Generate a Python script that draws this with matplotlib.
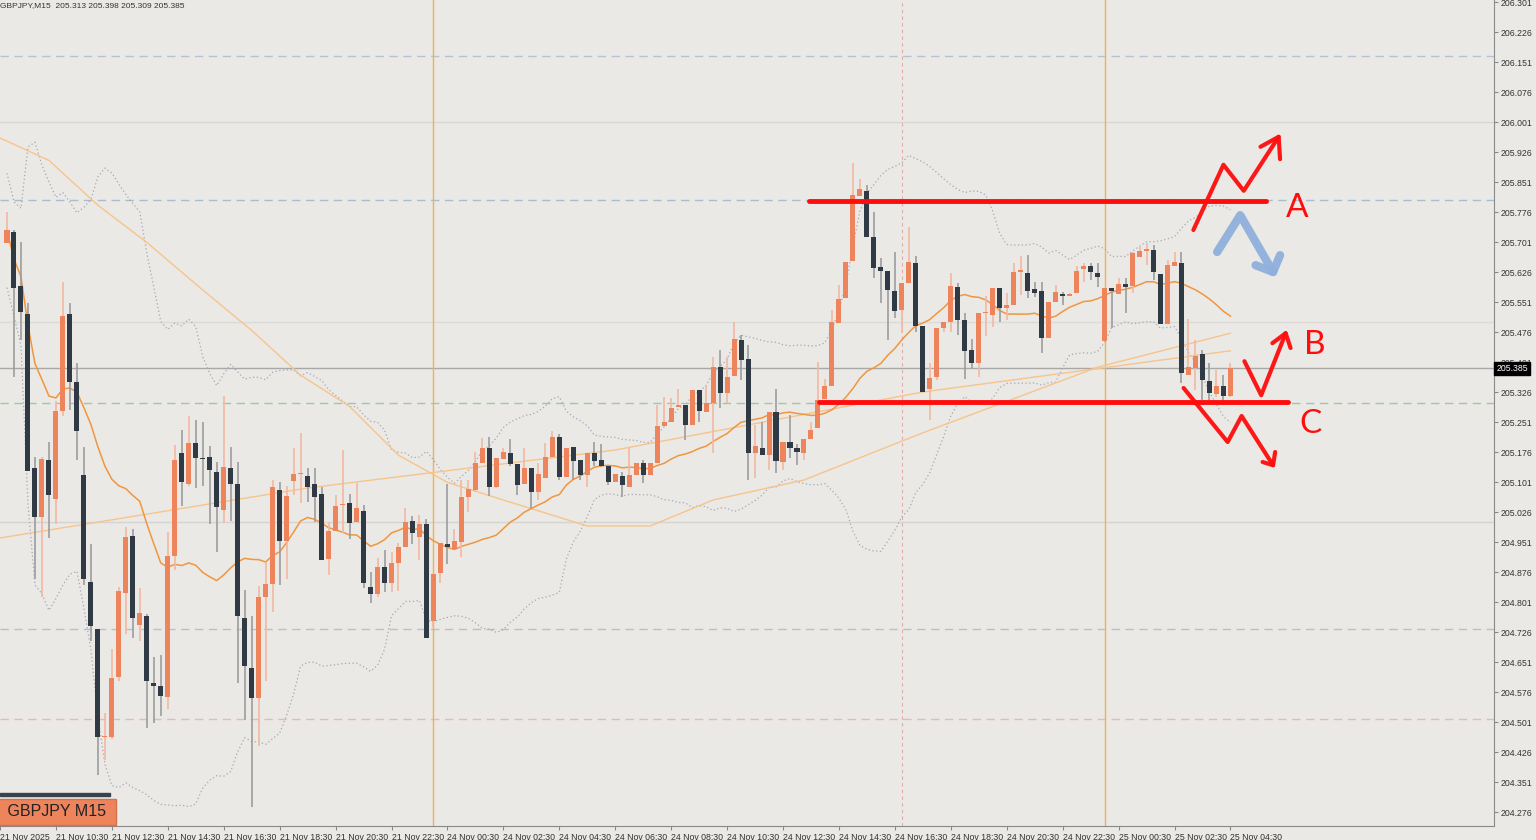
import numpy as np
import pandas as pd
import matplotlib
matplotlib.use("Agg")
import matplotlib.pyplot as plt

# ---------------- data (bars 1..176, M15) ----------------
opens = [205.698,205.727,205.590,205.520,205.135,205.013,205.155,205.058,205.278,205.520,
205.351,205.118,204.852,204.733,204.464,204.464,204.613,204.823,204.966,204.744,
204.765,204.598,204.592,204.563,204.916,205.173,205.097,205.199,205.161,205.164,
205.126,205.030,205.135,205.097,204.762,204.636,204.560,204.814,204.846,205.082,
204.954,205.103,205.120,205.116,205.096,205.070,204.908,204.979,205.043,205.049,
205.002,205.029,204.839,204.821,204.888,204.848,204.899,204.939,205.004,204.964,
204.995,204.754,204.874,204.945,204.933,204.950,205.063,205.081,205.149,205.187,
205.088,205.158,205.173,205.146,205.096,205.137,205.075,205.112,205.164,205.213,
205.114,205.188,205.156,205.118,205.174,205.156,205.141,205.102,205.116,205.089,
205.118,205.148,205.118,205.149,205.241,205.252,205.288,205.293,205.243,205.331,
205.277,205.298,205.389,205.324,205.366,205.456,205.408,205.173,205.185,205.168,
205.277,205.152,205.202,205.185,205.174,205.208,205.235,205.308,205.341,205.499,
205.560,205.654,205.816,205.829,205.713,205.638,205.629,205.579,205.531,205.599,
205.649,205.491,205.333,205.363,205.485,205.502,205.589,205.506,205.431,205.398,
205.523,205.518,205.585,205.535,205.543,205.627,205.623,205.583,205.579,205.460,
205.552,205.571,205.566,205.573,205.633,205.641,205.624,205.454,205.585,205.571,
205.596,205.591,205.663,205.679,205.681,205.621,205.496,205.641,205.648,205.368,
205.385,205.421,205.353,205.321,205.342,205.316]
highs = [205.777,205.730,205.701,205.549,205.164,205.164,205.202,205.304,205.602,205.549,
205.398,205.188,204.945,204.733,204.523,204.683,204.838,204.989,204.983,204.835,
204.771,204.663,204.668,204.975,205.193,205.231,205.266,205.255,205.250,205.191,
205.150,205.316,205.188,205.150,204.832,204.765,204.840,204.899,205.106,205.100,
205.091,205.185,205.223,205.135,205.135,205.089,205.000,205.068,205.181,205.070,
205.098,205.043,204.877,204.910,204.931,204.927,204.948,205.035,205.016,205.018,
205.008,204.871,204.948,205.095,204.984,205.106,205.106,205.177,205.210,205.214,
205.160,205.185,205.208,205.146,205.185,205.137,205.148,205.198,205.229,205.220,
205.185,205.188,205.156,205.174,205.202,205.196,205.141,205.120,205.125,205.185,
205.148,205.156,205.149,205.293,205.313,205.310,205.333,205.293,205.331,205.331,
205.343,205.414,205.431,205.414,205.502,205.468,205.443,205.243,205.252,205.277,
205.333,205.202,205.268,205.197,205.208,205.252,205.402,205.358,205.531,205.593,
205.652,205.899,205.858,205.843,205.777,205.660,205.629,205.677,205.599,205.739,
205.666,205.491,205.398,205.485,205.502,205.623,205.598,205.523,205.458,205.523,
205.565,205.585,205.585,205.573,205.648,205.666,205.668,205.602,205.602,205.552,
205.594,205.577,205.574,205.641,205.648,205.648,205.648,205.585,205.585,205.610,
205.610,205.677,205.689,205.698,205.694,205.621,205.656,205.677,205.677,205.508,
205.456,205.431,205.399,205.381,205.368,205.399]
lows = [205.698,205.363,205.456,205.129,204.858,204.814,204.960,204.995,205.266,205.281,
205.156,204.843,204.703,204.368,204.406,204.458,204.604,204.721,204.712,204.703,
204.485,204.499,204.517,204.534,204.881,205.042,205.091,205.086,205.090,204.995,
204.925,204.998,205.004,204.598,204.505,204.288,204.441,204.604,204.776,204.843,
204.858,205.068,205.048,205.050,205.000,204.906,204.868,204.979,204.973,204.958,
205.002,204.835,204.798,204.814,204.827,204.827,204.829,204.939,204.946,204.906,
204.710,204.739,204.848,204.895,204.933,204.914,205.027,205.077,205.149,205.066,
205.085,205.158,205.140,205.068,205.096,205.035,205.056,205.112,205.164,205.106,
205.114,205.106,205.106,205.088,205.141,205.138,205.094,205.102,205.064,205.089,
205.118,205.098,205.118,205.149,205.241,205.252,205.288,205.206,205.243,205.252,
205.277,205.173,205.285,205.298,205.366,205.356,205.106,205.110,205.168,205.131,
205.124,205.131,205.160,205.143,205.156,205.208,205.235,205.308,205.341,205.499,
205.560,205.654,205.816,205.713,205.610,205.548,205.456,205.510,205.473,205.599,
205.477,205.327,205.256,205.356,205.477,205.477,205.468,205.358,205.385,205.363,
205.465,205.489,205.502,205.506,205.543,205.568,205.562,205.564,205.423,205.460,
205.552,205.543,205.566,205.573,205.602,205.606,205.589,205.454,205.485,205.571,
205.523,205.573,205.663,205.644,205.606,205.496,205.496,205.641,205.348,205.368,
205.331,205.306,205.306,205.314,205.302,205.314]
closes = [205.730,205.587,205.526,205.129,205.013,205.158,205.068,205.278,205.517,205.351,
205.228,204.858,204.741,204.464,204.467,204.610,204.829,204.963,204.762,204.773,
204.604,204.592,204.566,204.916,205.156,205.100,205.199,205.161,205.158,205.132,
205.039,205.138,205.097,204.765,204.642,204.560,204.814,204.846,205.088,204.954,
205.065,205.121,205.123,205.088,205.064,204.906,204.979,205.041,205.047,204.998,
205.037,204.848,204.821,204.888,204.848,204.899,204.939,205.002,204.973,204.996,
204.710,204.871,204.948,204.939,204.953,205.063,205.083,205.149,205.187,205.088,
205.160,205.175,205.146,205.094,205.137,205.077,205.120,205.164,205.213,205.114,
205.185,205.154,205.118,205.174,205.154,205.141,205.102,205.120,205.094,205.118,
205.148,205.118,205.149,205.241,205.252,205.285,205.293,205.243,205.331,205.279,
205.298,205.388,205.324,205.363,205.458,205.406,205.173,205.191,205.168,205.277,
205.154,205.202,205.185,205.177,205.208,205.231,205.306,205.341,205.502,205.558,
205.652,205.818,205.833,205.713,205.635,205.629,205.581,205.529,205.599,205.651,
205.491,205.327,205.360,205.485,205.502,205.591,205.506,205.429,205.399,205.523,
205.523,205.585,205.535,205.543,205.627,205.631,205.579,205.574,205.460,205.552,
205.577,205.566,205.571,205.629,205.641,205.627,205.613,205.585,205.579,205.596,
205.589,205.674,205.679,205.683,205.627,205.496,205.643,205.651,205.374,205.388,
205.416,205.356,205.323,205.340,205.316,205.385]

# slower moving averages (bar index, price)
mid_ma_bars = [0, 7, 14, 21, 29, 36, 43, 50, 57, 64, 72, 84, 93, 102, 115, 132, 157, 176]
mid_ma_vals = [205.961, 205.905, 205.793, 205.700, 205.581, 205.480, 205.368, 205.290, 205.168,
               205.100, 205.056, 204.991, 204.991, 205.056, 205.106, 205.224, 205.388, 205.473]
slow_ma_bars = [0, 44, 88, 132, 176]
slow_ma_vals = [204.961, 205.086, 205.181, 205.326, 205.429]

tick_bars = list(range(0, 177, 8))
tick_labels = ["21 Nov 2025", "21 Nov 10:30", "21 Nov 12:30", "21 Nov 14:30", "21 Nov 16:30",
               "21 Nov 18:30", "21 Nov 20:30", "21 Nov 22:30", "24 Nov 00:30", "24 Nov 02:30",
               "24 Nov 04:30", "24 Nov 06:30", "24 Nov 08:30", "24 Nov 10:30", "24 Nov 12:30",
               "24 Nov 14:30", "24 Nov 16:30", "24 Nov 18:30", "24 Nov 20:30", "24 Nov 22:30",
               "25 Nov 00:30", "25 Nov 02:30", "25 Nov 04:30"]
price_ticks = [206.301 - 0.075 * k for k in range(28)]

hlines = [(206.166, "#b4c2d2", (0, (6, 4))), (206.001, "#d8d6d2", "-"), (205.501, "#dcdad6", "-"),
          (205.001, "#d6d4d0", "-"), (205.806, "#a9bcd0", (0, (6, 4))), (205.385, "#a8a8a8", "-"),
          (205.299, "#9cc8a8", (0, (6, 4))), (204.734, "#b8c0d0", (0, (6, 4))),
          (204.509, "#e8b4cc", (0, (6, 4)))]
vlines_orange = [62, 158]
vline_pink = 129

level_A = (205.804, 115.7, 181.1)
level_C = (205.300, 117.1, 184.3)
stroke_A = ([170.7, 175.0, 177.9, 182.9], [205.731, 205.894, 205.829, 205.964])
head_A = ([180.3, 182.9, 183.1], [205.939, 205.964, 205.908])
stroke_blue = ([174.1, 177.4, 182.1], [205.676, 205.768, 205.626])
head_blue = ([179.6, 182.1, 183.1], [205.643, 205.626, 205.668])
stroke_B = ([178.0, 180.4, 183.9], [205.403, 205.318, 205.473])
head_B = ([182.0, 183.9, 184.6], [205.448, 205.473, 205.436])
stroke_C = ([169.3, 175.6, 177.6, 182.1], [205.336, 205.201, 205.266, 205.143])
head_C = ([180.6, 182.1, 182.4], [205.151, 205.143, 205.176])
letters = [("A", 185.6, 205.786), ("B", 188.0, 205.443), ("C", 187.4, 205.246)]

# ---------------- drawing ----------------
BG = "#ebe9e5"
BULL = "#ee845c"
BEAR = "#2f3a44"
FONT = "Liberation Sans"
fig = plt.figure(figsize=(15.36, 8.4), dpi=100, facecolor=BG)
ax = fig.add_axes([0, 14 / 840, 1494 / 1536, 826 / 840])
ax.set_facecolor(BG)
ax.set_xlim(0.29, 213.7)
ax.set_ylim(204.241, 206.306)

for y, c, ls in hlines:
    ax.axhline(y, color=c, lw=1, ls=ls, zorder=1)
for v in vlines_orange:
    ax.axvline(v, color="#f2b24a", lw=1, zorder=1)
ax.axvline(vline_pink, color="#e3a8a8", lw=0.8, ls=(0, (3, 3)), zorder=1)

n = len(closes)
bars = np.arange(1, n + 1)
cl = pd.Series(closes)
ma20 = cl.rolling(20, min_periods=1).mean()
sd20 = cl.rolling(20, min_periods=2).std(ddof=0).bfill()
ax.plot(bars, ma20 + 2 * sd20, color="#a6a6b6", lw=0.9, ls=(0, (1, 2)), zorder=2)
ax.plot(bars, ma20 - 2 * sd20, color="#a6a6b6", lw=0.9, ls=(0, (1, 2)), zorder=2)
ax.plot(mid_ma_bars, mid_ma_vals, color="#f6c48c", lw=1.0, zorder=2)
ax.plot(slow_ma_bars, slow_ma_vals, color="#f6c48c", lw=1.0, zorder=2)
ax.plot(bars, ma20, color="#f0963e", lw=1.1, zorder=2)

for i, o, h, l, c in zip(bars, opens, highs, lows, closes):
    up = c >= o
    ax.vlines(i, l, h, color="#f3b8a2" if up else "#9d9d9d", lw=1.2, zorder=3)
    lo, hi = min(o, c), max(o, c)
    ax.bar(i, max(hi - lo, 0.003), bottom=lo, width=0.72,
           color=BULL if up else BEAR, lw=0, zorder=4)

# annotations
ax.plot([level_A[1], level_A[2]], [level_A[0]] * 2, color="#ff0d0d", lw=3.5,
        solid_capstyle="round", zorder=6)
ax.plot([level_C[1], level_C[2]], [level_C[0]] * 2, color="#ff0d0d", lw=3.5,
        solid_capstyle="round", zorder=6)
for (xs, ys), (hx, hy), col, w in [(stroke_A, head_A, "#ff0d0d", 3.0),
                                   (stroke_B, head_B, "#ff0d0d", 3.0),
                                   (stroke_C, head_C, "#ff0d0d", 3.0),
                                   (stroke_blue, head_blue, "#8fb0dc", 6.0)]:
    ax.plot(xs, ys, color=col, lw=w, solid_capstyle="round", solid_joinstyle="round", zorder=6,
            alpha=0.95)
    ax.plot(hx, hy, color=col, lw=w, solid_capstyle="round", solid_joinstyle="round", zorder=6,
            alpha=0.95)
for t, x, y in letters:
    ax.text(x, y, t, color="#ff0d0d", fontsize=24, ha="center", va="center",
            fontfamily="Lato", zorder=6)

# axes styling
for s in ["top", "left"]:
    ax.spines[s].set_visible(False)
ax.spines["right"].set_color("#8a8a8a")
ax.spines["bottom"].set_color("#8a8a8a")
ax.yaxis.tick_right()
ax.set_yticks(price_ticks)
ax.set_yticklabels([f"{p:.3f}" for p in price_ticks], fontsize=6.3, color="#333333",
                   fontfamily=FONT)
ax.tick_params(axis="y", length=3, color="#888888", pad=2)
ax.set_xticks(tick_bars)
ax.set_xticklabels(tick_labels, fontsize=6.3, color="#333333", ha="left", fontfamily=FONT)
ax.tick_params(axis="x", length=3, color="#888888", pad=2)

ax.text(1.0015, (closes[-1] - 204.241) / (206.306 - 204.241), f"{closes[-1]:.3f}",
        transform=ax.transAxes, fontsize=6.3, color="white", va="center", ha="left",
        fontfamily=FONT, zorder=7,
        bbox=dict(boxstyle="square,pad=0.2", fc="black", ec="black"))
fig.text(0.0, 0.997, "GBPJPY,M15  205.313 205.398 205.309 205.385", fontsize=6, color="#333333",
         va="top", ha="left", fontfamily=FONT)
fig.patches.append(plt.Rectangle((0, 44 / 840), 110 / 1536, 3 / 840, transform=fig.transFigure,
                                 color="#38424c", zorder=5))
fig.text(3 / 1536, 28 / 840, " GBPJPY M15 ", fontsize=11.5, color="#222222", va="center",
         ha="left", fontfamily=FONT,
         bbox=dict(boxstyle="square,pad=0.35", fc="#ee845c", ec="#d4704a"), zorder=6)

fig.savefig("out.png", dpi=100, facecolor=BG)
